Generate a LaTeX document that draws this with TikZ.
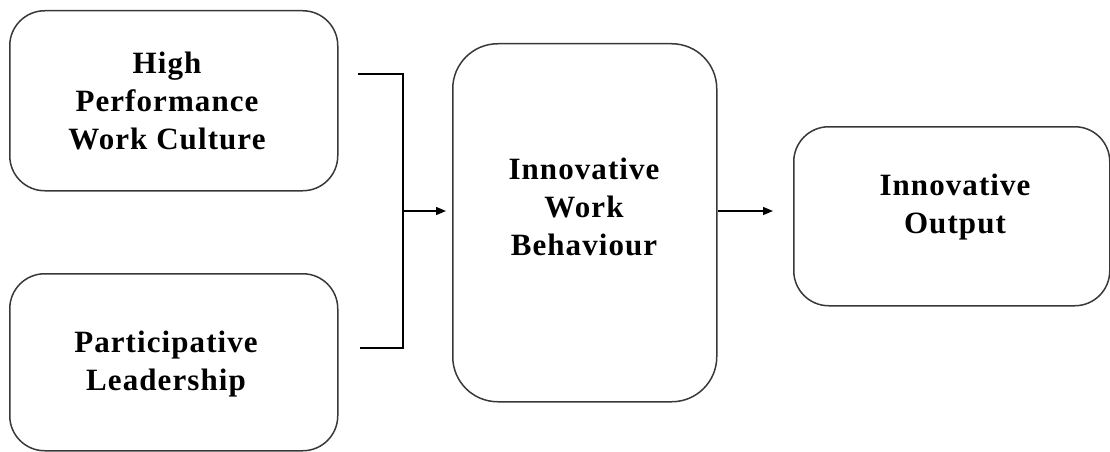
\documentclass[tikz,border=0pt]{standalone}
\usepackage{fontspec}
\setmainfont{Liberation Serif}
\newfontfamily\lblfont[LetterSpace=3.5]{Liberation Serif}
\usetikzlibrary{arrows.meta}
\begin{document}
\begin{tikzpicture}[x=1pt,y=-1pt,
  box/.style={draw=black!78, line width=1.5pt, rectangle, anchor=north west, inner sep=0pt},
  lbl/.style={align=center, inner sep=0pt, font=\lblfont\fontsize{31}{38}\selectfont\bfseries},
  conn/.style={draw=black, line width=1.4pt},
  arr/.style={conn, -{Triangle[length=10pt,width=8pt]}}]
\useasboundingbox (0,0) rectangle (1110,452);
% boxes
\node[box, rounded corners=35pt, minimum width=328pt, minimum height=180pt] (hp) at (9,10) {};
\node[box, rounded corners=35pt, minimum width=328pt, minimum height=177pt] (pl) at (9,273) {};
\node[box, rounded corners=45pt, minimum width=264pt, minimum height=358pt] (iwb) at (452,43) {};
\node[box, rounded corners=35pt, minimum width=316pt, minimum height=179pt] (io) at (793,126) {};
% labels
\node[lbl] (thp) at (167,101) {High\\Performance\\Work Culture};
\node[lbl] (tpl) at (166,364) {Participative\\Leadership};
\node[lbl] (tiwb) at (584,207) {Innovative\\Work\\Behaviour};
\node[lbl] (tio) at (955,207) {Innovative\\Output};
% connector points
\coordinate (a1) at (358,74);
\coordinate (a2) at (403,74);
\coordinate (b1) at (360,348);
\coordinate (b2) at (403,348);
\coordinate (m) at (403,211);
\coordinate (e1) at (718,211);
\coordinate (e2) at (773,211);
\path[conn] (a1) -- (a2) -- (b2) -- (b1);
\path[arr, shorten >=6pt] (m) -- (iwb.west |- m);
\path[arr] (e1) -- (e2);
\end{tikzpicture}
\end{document}
